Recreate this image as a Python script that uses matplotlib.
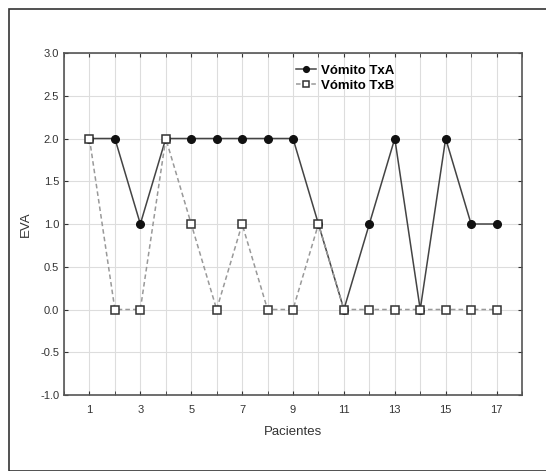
import matplotlib.pyplot as plt
from matplotlib.patches import Rectangle
from matplotlib.ticker import MultipleLocator

plt.rcParams['font.family'] = ['Liberation Sans', 'DejaVu Sans']

# Datos
pacientes = list(range(1, 18))
vomito_a = [2, 2, 1, 2, 2, 2, 2, 2, 2, 1, 0, 1, 2, 0, 2, 1, 1]
vomito_b = [2, 0, 0, 2, 1, 0, 1, 0, 0, 1, 0, 0, 0, 0, 0, 0, 0]

fig = plt.figure(figsize=(5.46, 4.71), dpi=100)
# marco exterior
fig.patches.append(Rectangle((9/546, 0), 1, 1 - 9/471, transform=fig.transFigure,
                             fill=False, edgecolor='#333333', linewidth=1.2))

ax = fig.add_axes([64/546, 1 - 395/471, 458/546, 342/471])

ax.plot(pacientes, vomito_a, color='#444444', linewidth=1.1, marker='o',
        markersize=5.5, markerfacecolor='#111111', markeredgecolor='#111111',
        label='Vómito TxA', zorder=3)
ax.plot(pacientes, vomito_b, color='#999999', linewidth=1.1, linestyle='--',
        dashes=(3, 2), marker='s', markersize=5.5, markerfacecolor='white',
        markeredgecolor='#333333', markeredgewidth=1.1, label='Vómito TxB', zorder=4)

ax.set_xlim(0, 18)
ax.set_ylim(-1, 3)
ax.set_xticks(range(1, 18, 2))
ax.xaxis.set_minor_locator(MultipleLocator(1))
ax.yaxis.set_major_locator(MultipleLocator(0.5))
ax.set_yticklabels([f'{v:.1f}' for v in ax.get_yticks()])
ax.grid(True, which='both', axis='x', color='#dddddd', linewidth=0.8)
ax.grid(True, which='major', axis='y', color='#dddddd', linewidth=0.8)
ax.set_axisbelow(True)
ax.tick_params(which='both', direction='in', top=True, right=True,
               labelsize=8, colors='#333333', length=3)
ax.tick_params(axis='x', pad=7)
for s in ax.spines.values():
    s.set_color('#555555')
    s.set_linewidth(1.2)

ax.set_xlabel('Pacientes', fontsize=9.5, color='#333333', labelpad=8)
ax.set_ylabel('EVA', fontsize=9.5, color='#333333', labelpad=6)

leg = ax.legend(loc='upper left', bbox_to_anchor=(0.48, 1.0), frameon=False,
                handlelength=1.5, handletextpad=0.4, labelspacing=0.2,
                markerscale=0.75, prop={'weight': 'bold', 'size': 9.5})

plt.savefig('out.png', dpi=100)
